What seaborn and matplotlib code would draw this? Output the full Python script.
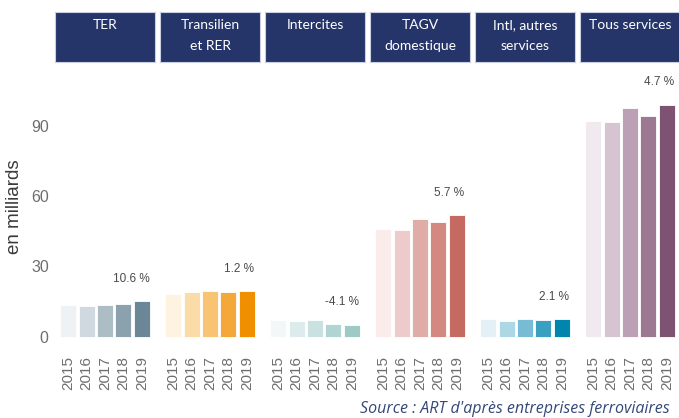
import matplotlib
matplotlib.use('Agg')
import matplotlib.pyplot as plt
import seaborn as sns
import pandas as pd

# ── données (en milliards) ──
services = ['TER', 'Transilien\net RER', 'Intercites', 'TAGV\ndomestique',
            'Intl, autres\nservices', 'Tous services']
years = ['2015', '2016', '2017', '2018', '2019']
ter = [13.4, 13.1, 13.7, 13.75, 15.2]
transilien = [18.4, 19.2, 19.5, 19.1, 19.35]
intercites = [7.3, 6.6, 7.0, 5.3, 5.08]
tagv = [45.9, 45.7, 50.3, 49.0, 51.8]
intl = [7.4, 6.7, 7.4, 7.3, 7.45]
tous = [92.3, 91.6, 97.8, 94.4, 99.1]
growth = ['10.6 %', '1.2 %', '-4.1 %', '5.7 %', '2.1 %', '4.7 %']

palettes = [
    ['#eff2f5', '#d0d9df', '#adbdc6', '#8ba1ad', '#6b8797'],
    ['#fef3e0', '#fbdba8', '#f8c373', '#f5a83a', '#f09000'],
    ['#f2f8f8', '#dcecec', '#c9e1e1', '#b0d4d2', '#9ec9c5'],
    ['#f9eceb', '#eccbca', '#e0aca7', '#d38980', '#c56a61'],
    ['#e3f1f7', '#acd8e5', '#77bcd4', '#3aa0c1', '#0086ad'],
    ['#f0eaef', '#d6c4d2', '#bca0b5', '#9d7893', '#7e5273'],
]

series = [ter, transilien, intercites, tagv, intl, tous]
df = pd.concat([pd.DataFrame({'service': s, 'year': years, 'value': v})
                for s, v in zip(services, series)], ignore_index=True)

sns.set_style('white')
plt.rcParams['font.family'] = ['Liberation Sans', 'DejaVu Sans']

W, H = 679, 418
fig = plt.figure(figsize=(W / 100, H / 100), dpi=100)

left0, pw, step = 55, 100, 105
top_px, bot_px = 63, 350
strip_top, strip_bot = 12, 62
tick_grey = '#6e6e6e'

for i, svc in enumerate(services):
    x0 = left0 + i * step
    ax = fig.add_axes([x0 / W, (H - bot_px) / H, pw / W, (bot_px - top_px) / H])
    sub = df[df['service'] == svc]
    sns.barplot(data=sub, x='year', y='value', hue='year', palette=palettes[i],
                saturation=1, width=0.88, legend=False, ax=ax,
                edgecolor='white', linewidth=0.6)
    ax.set_ylim(-5.7, 116.9)
    ax.set_xlim(-0.72, 4.72)
    ax.set_xlabel('')
    ax.set_ylabel('')
    for sp in ax.spines.values():
        sp.set_visible(False)
    ax.tick_params(axis='x', rotation=90, labelsize=11, colors='#9a9a9a',
                   labelcolor=tick_grey, length=2.5, width=0.6, pad=2)
    if i == 0:
        ax.set_yticks([0, 30, 60, 90])
        ax.tick_params(axis='y', labelsize=11.5, colors='#9a9a9a',
                       labelcolor=tick_grey, length=2.5, width=0.6, pad=2)
        ax.set_ylabel('en milliards', fontsize=13.5, color='#3a3a3a', labelpad=6)
    else:
        ax.set_yticks([])
    last = series[i][-1]
    ax.text(4.42, last + 7, growth[i], ha='right', va='bottom',
            fontsize=8.5, color='#4a4a4a')

    # bandeau titre de facette
    sax = fig.add_axes([x0 / W, (H - strip_bot) / H, pw / W, (strip_bot - strip_top) / H])
    sax.set_facecolor('#263569')
    sax.set_xticks([])
    sax.set_yticks([])
    for sp in sax.spines.values():
        sp.set_edgecolor('#c9cfe0')
        sp.set_linewidth(0.8)
    sax.text(0.5, 0.86, svc, ha='center', va='top', color='white',
             fontsize=10, linespacing=1.85, transform=sax.transAxes,
             family=['Lato', 'DejaVu Sans'])

fig.text(670 / W, 1 - 413 / H, "Source : ART d'après entreprises ferroviaires",
         ha='right', va='baseline', fontsize=11.5, style='italic',
         color='#34497a', family=['Open Sans', 'DejaVu Sans'])

fig.savefig('out.png', dpi=100)
